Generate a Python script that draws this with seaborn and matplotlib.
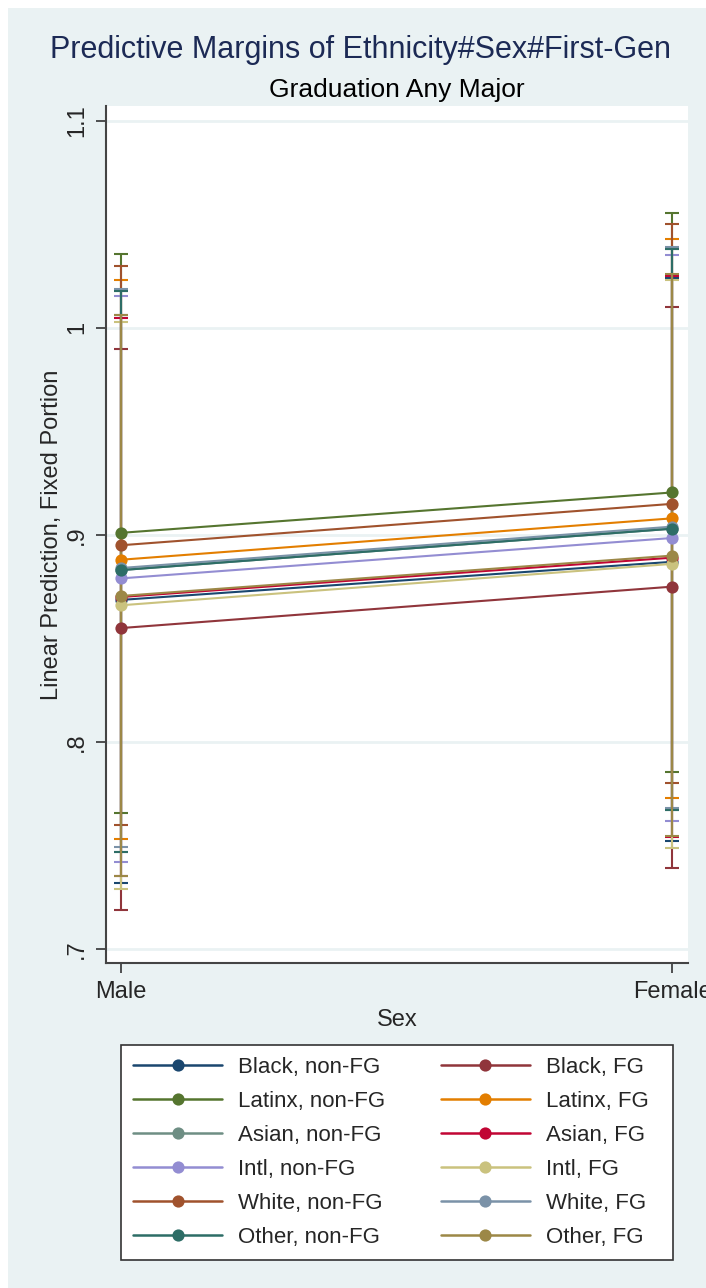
import pandas as pd
import seaborn as sns
import matplotlib.pyplot as plt
from matplotlib.lines import Line2D
from matplotlib.patches import Rectangle

# Werte (Margins + 95%-KI)
sex = ["Male", "Female"]
groups = ["Black, non-FG", "Black, FG", "Latinx, non-FG", "Latinx, FG",
          "Asian, non-FG", "Asian, FG", "Intl, non-FG", "Intl, FG",
          "White, non-FG", "White, FG", "Other, non-FG", "Other, FG"]
colors = ["#1a476f", "#90353b", "#55752f", "#e37e00", "#6e8e84", "#c10534",
          "#938dd2", "#cac27e", "#a0522d", "#7b92a8", "#2d6d66", "#9c8847"]

margin_male = [0.8686, 0.855, 0.901, 0.888, 0.883, 0.870,
               0.879, 0.866, 0.895, 0.884, 0.883, 0.8705]
margin_female = [0.887, 0.875, 0.9205, 0.908, 0.903, 0.889,
                 0.8985, 0.886, 0.915, 0.904, 0.903, 0.890]
lo_male = [0.732, 0.719, 0.7657, 0.753, 0.747, 0.735,
           0.742, 0.729, 0.760, 0.749, 0.747, 0.735]
hi_male = [1.006, 0.990, 1.0357, 1.023, 1.018, 1.005,
           1.0155, 1.003, 1.030, 1.019, 1.018, 1.006]
lo_female = [0.752, 0.739, 0.7855, 0.773, 0.767, 0.754,
             0.762, 0.7488, 0.780, 0.768, 0.767, 0.7546]
hi_female = [1.024, 1.010, 1.0556, 1.043, 1.038, 1.025,
             1.035, 1.023, 1.050, 1.039, 1.038, 1.026]

yticks = [0.7, 0.8, 0.9, 1.0, 1.1]
yticklabels = [".7", ".8", ".9", "1", "1.1"]

rows = []
for i, g in enumerate(groups):
    for j, (m, lo, hi) in enumerate([(margin_male[i], lo_male[i], hi_male[i]),
                                     (margin_female[i], lo_female[i], hi_female[i])]):
        rows.append({"group": g, "sex": sex[j], "pos": j, "margin": m, "lo": lo, "hi": hi})
df = pd.DataFrame(rows)
palette = dict(zip(groups, colors))

sns.set_theme(style="white")
plt.rcParams['font.family'] = ['Liberation Sans', 'DejaVu Sans']

W, H = 706, 1288
bg = "#eaf2f3"
fig = plt.figure(figsize=(W / 100, H / 100), dpi=100, facecolor="white")
fig.patches.append(Rectangle((8 / W, 0), 1, 1 - 8 / H, transform=fig.transFigure,
                             facecolor=bg, edgecolor="none", zorder=-10))

# Achsenbereich in Pixeln
ax = fig.add_axes([106 / W, 1 - 963 / H, 582 / W, (963 - 106) / H])
ax.set_facecolor("white")

# Konfidenzintervalle zuerst
for g in groups:
    d = df[df.group == g]
    ax.errorbar(d["pos"], d["margin"], yerr=[d["margin"] - d["lo"], d["hi"] - d["margin"]],
                fmt="none", ecolor=palette[g], elinewidth=1.5, capsize=4.7, capthick=1.5, zorder=2)

sns.lineplot(data=df, x="pos", y="margin", hue="group", hue_order=groups, palette=palette,
             marker="o", markersize=8.8, markeredgewidth=0, linewidth=1.5,
             legend=False, ax=ax, zorder=3)

ax.set_xlim(-0.027, 1.029)
ax.set_ylim(0.6932, 1.1072)
ax.set_xticks(range(len(sex)))
ax.set_xticklabels(sex, fontsize=17)
ax.set_yticks(yticks)
ax.set_yticklabels(yticklabels, fontsize=17, rotation=90, va="center")
ax.yaxis.grid(True, color=bg, linewidth=2)
ax.xaxis.grid(False)
ax.tick_params(axis="both", direction="out", length=7, width=1.2, color="#333333", pad=6)
ax.tick_params(axis="y", left=True)
ax.tick_params(axis="x", bottom=True)
for s in ["top", "right"]:
    ax.spines[s].set_visible(False)
for s in ["left", "bottom"]:
    ax.spines[s].set_color("#444444")
    ax.spines[s].set_linewidth(1.5)
ax.set_xlabel("Sex", fontsize=17, labelpad=4)
ax.set_ylabel("Linear Prediction, Fixed Portion", fontsize=17, labelpad=2)

fig.text(361 / W, 1 - 50 / H, "Predictive Margins of Ethnicity#Sex#First-Gen",
         fontsize=22, color="#1c2a55", ha="center", va="center")
fig.text(397 / W, 1 - 90 / H, "Graduation Any Major", fontsize=19, color="black",
         ha="center", va="center")

# Legende: linke Spalte non-FG, rechte Spalte FG
order = [i for i in range(0, 12, 2)] + [i for i in range(1, 12, 2)]
handles = [Line2D([], [], color=colors[i], marker="o", markersize=8.8, markeredgewidth=0,
                  linewidth=1.8) for i in order]
# rechte Spalte etwas nach links ruecken (unsichtbare Leerzeichen am Ende)
labels = [groups[i] if i % 2 == 0 else groups[i] + "  " for i in order]
leg = fig.legend(handles, labels, ncol=2, mode="expand",
                 bbox_to_anchor=(121 / W, 1 - 1259 / H, 552 / W, (1259 - 1045) / H),
                 loc="upper left", fontsize=16, frameon=True, fancybox=False,
                 edgecolor="#333333", framealpha=1, handlelength=4.0, handletextpad=0.72,
                 labelspacing=0.58, borderpad=0.55, borderaxespad=0)
leg.get_frame().set_linewidth(1.2)

fig.savefig("out.png", dpi=100, facecolor="white")
